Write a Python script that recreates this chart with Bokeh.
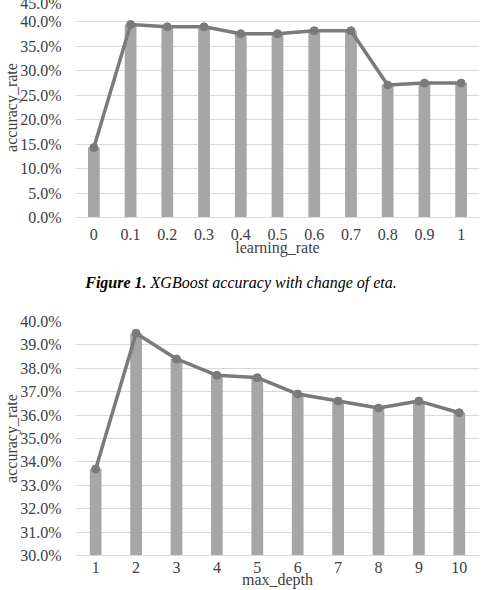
from bokeh.plotting import figure
from bokeh.layouts import column
from bokeh.models import FactorRange, Range1d, FixedTicker, NumeralTickFormatter, Div
from bokeh.embed import file_html
from bokeh.resources import INLINE

# XGBoost accuracy as eta (learning_rate) varies
eta_labels = ["0", "0.1", "0.2", "0.3", "0.4", "0.5", "0.6", "0.7", "0.8", "0.9", "1"]
eta_accuracy = [0.143, 0.395, 0.390, 0.390, 0.376, 0.376, 0.382, 0.382, 0.271, 0.275, 0.275]
eta_ticks = [0.0, 0.05, 0.10, 0.15, 0.20, 0.25, 0.30, 0.35, 0.40, 0.45]

# XGBoost accuracy as max_depth varies
depth_labels = ["1", "2", "3", "4", "5", "6", "7", "8", "9", "10"]
depth_accuracy = [0.337, 0.395, 0.384, 0.377, 0.376, 0.369, 0.366, 0.363, 0.366, 0.361]
depth_ticks = [0.30, 0.31, 0.32, 0.33, 0.34, 0.35, 0.36, 0.37, 0.38, 0.39, 0.40]

SERIF = "Liberation Serif"
BAR = "#a6a6a6"
LINE = "#7a7a7a"
TEXT = "#404040"
GRID = "#d9d9d9"


def make_chart(labels, values, ticks, y_start, y_end, x_title, height,
               border_left, border_right, border_top, border_bottom, bar_width,
               tick_standoff, title_standoff):
    p = figure(
        width=482, height=height,
        x_range=FactorRange(factors=labels, range_padding=0),
        y_range=Range1d(y_start, y_end),
        output_backend="svg", toolbar_location=None,
        min_border_left=border_left, min_border_right=border_right,
        min_border_top=border_top, min_border_bottom=border_bottom,
    )
    p.outline_line_color = None
    p.background_fill_color = "white"
    p.border_fill_color = "white"

    p.vbar(x=labels, top=values, bottom=y_start, width=bar_width,
           fill_color=BAR, line_color=None)
    p.line(x=labels, y=values, line_color=LINE, line_width=3.5)
    p.scatter(x=labels, y=values, size=8, fill_color=LINE, line_color=LINE)

    p.xgrid.grid_line_color = None
    p.ygrid.grid_line_color = GRID
    p.ygrid.grid_line_width = 1

    p.yaxis.ticker = FixedTicker(ticks=ticks)
    p.yaxis.formatter = NumeralTickFormatter(format="0.0%")
    p.yaxis.axis_line_color = None
    p.yaxis.major_tick_line_color = None
    p.yaxis.minor_tick_line_color = None
    p.yaxis.major_tick_out = 0
    p.yaxis.major_label_standoff = 14
    p.yaxis.axis_label = "accuracy_rate"
    p.yaxis.axis_label_standoff = -3

    p.xaxis.axis_line_color = GRID
    p.xaxis.major_tick_line_color = None
    p.xaxis.minor_tick_line_color = None
    p.xaxis.major_tick_out = 0
    p.xaxis.major_label_standoff = tick_standoff
    p.xaxis.axis_label = x_title
    p.xaxis.axis_label_standoff = title_standoff

    for ax in (p.xaxis, p.yaxis):
        ax.major_label_text_font = SERIF
        ax.major_label_text_font_size = "16px"
        ax.major_label_text_color = TEXT
        ax.axis_label_text_font = SERIF
        ax.axis_label_text_font_size = "16px"
        ax.axis_label_text_font_style = "normal"
        ax.axis_label_text_color = TEXT
    return p


# upper chart: the canvas starts a few pixels above the page so the 45% row sits at the top edge
top = make_chart(eta_labels, eta_accuracy, eta_ticks, 0.0, 0.45, "learning_rate",
                 height=272, border_left=75, border_right=3, border_top=3,
                 border_bottom=49, bar_width=0.32, tick_standoff=11, title_standoff=-4)
top.margin = (-6, 0, 0, 0)

caption = Div(
    text=("<div style=\"width:482px;text-align:center;font-family:'Liberation Serif';"
          "font-size:16px;line-height:34px;color:#000;\">"
          "<b><i>Figure 1.</i></b> <i>XGBoost accuracy with change of eta.</i></div>"),
    width=482, height=34, margin=(0, 0, 0, 0),
)

bottom = make_chart(depth_labels, depth_accuracy, depth_ticks, 0.30, 0.40, "max_depth",
                    height=290, border_left=74, border_right=1, border_top=21,
                    border_bottom=30, bar_width=0.29, tick_standoff=6, title_standoff=-5)

layout = column(top, caption, bottom, spacing=0)

with open("out.html", "w") as f:
    f.write(file_html(layout, INLINE))
